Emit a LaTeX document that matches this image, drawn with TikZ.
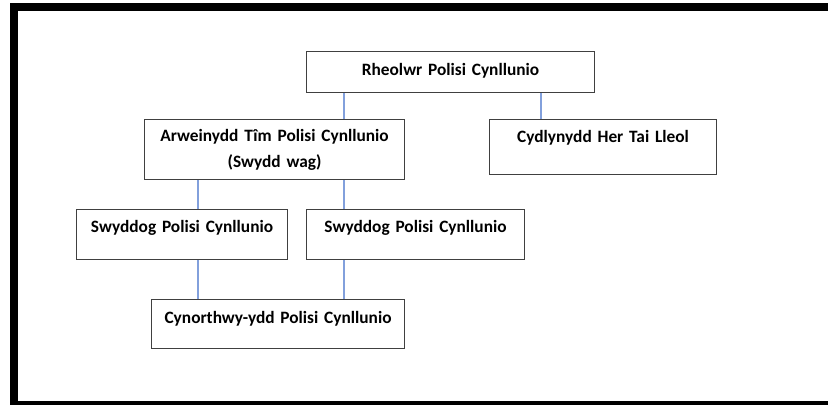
\documentclass[tikz,border=0pt]{standalone}
\usepackage{fontspec}
\setmainfont{Carlito}
\definecolor{boxline}{HTML}{404040}
\definecolor{linkblue}{HTML}{82A0DC}
\begin{document}
\begin{tikzpicture}[x=0.75pt,y=-0.75pt,
  box/.style={draw=boxline,line width=0.8pt,rectangle,inner sep=0pt,
    font=\fontsize{13}{19.5}\selectfont\bfseries,anchor=north west},
  link/.style={draw=linkblue,line width=0.8pt}]
\useasboundingbox (0,0) rectangle (828,405);
% frame
\fill[black] (10,3) rectangle (828,11);
\fill[black] (10,3) rectangle (18,405);
\fill[black] (10,401) rectangle (828,405);
% boxes
\node[box,minimum width=216pt,text width=216pt,align=center,text height=18pt,text depth=12.75pt] (rheo) at (306,51) {Rheolwr Polisi Cynllunio};
\node[box,minimum width=195pt,minimum height=45pt,text width=195pt,align=center] (arw) at (144,119) {Arweinydd Tîm Polisi Cynllunio\\(Swydd wag)};
\node[box,minimum width=170.25pt,text width=170.25pt,align=center,text height=17.25pt,text depth=24pt] (cyd) at (489,119) {Cydlynydd Her Tai Lleol};
\node[box,minimum width=158.25pt,text width=158.25pt,align=center,text height=17.25pt,text depth=20.25pt] (sw1) at (76,209) {Swyddog Polisi Cynllunio};
\node[box,minimum width=163.5pt,text width=163.5pt,align=center,text height=17.25pt,text depth=20.25pt] (sw2) at (306,209) {Swyddog Polisi Cynllunio};
\node[box,minimum width=189.75pt,text width=189.75pt,align=center,text height=18pt,text depth=18.75pt] (cyn) at (151,299) {Cynorthwy-ydd Polisi Cynllunio};
% connector columns
\coordinate (ca) at (198,0);
\coordinate (cb) at (344,0);
\coordinate (cc) at (541,0);
% connectors
\draw[link] (rheo.south -| cb) -- (arw.north -| cb);
\draw[link] (rheo.south -| cc) -- (cyd.north -| cc);
\draw[link] (arw.south -| ca) -- (sw1.north -| ca);
\draw[link] (arw.south -| cb) -- (sw2.north -| cb);
\draw[link] (sw1.south -| ca) -- (cyn.north -| ca);
\draw[link] (sw2.south -| cb) -- (cyn.north -| cb);
\end{tikzpicture}
\end{document}
